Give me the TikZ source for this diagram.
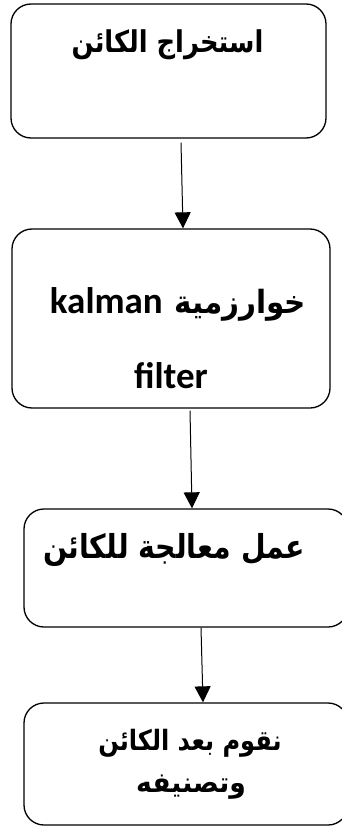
\documentclass[tikz,border=0pt]{standalone}
\usepackage{fontspec}
\setmainfont{Carlito}
\newfontfamily\arA[Script=Arabic,FakeStretch=0.86]{DejaVu Sans}
\newfontfamily\arB[Script=Arabic,FakeStretch=0.92]{DejaVu Sans}
\newfontfamily\arC[Script=Arabic,FakeStretch=0.95]{DejaVu Sans}
\newfontfamily\latinfont{Carlito}
\TeXXeTstate=1
\usetikzlibrary{arrows.meta,calc}
\begin{document}
\begin{tikzpicture}[x=1pt,y=-1pt,
  box/.style={draw,line width=1.3pt,rounded corners=20pt,inner sep=0pt},
  conn/.style={line width=1pt,-{Triangle[width=16pt,length=16pt]}},
  txt/.style={inner sep=0pt,anchor=base}]
\useasboundingbox (0,0) rectangle (342,829);
\node[box,minimum width=315pt,minimum height=134pt] (b1) at (168.5,71) {};
\node[box,minimum width=318pt,minimum height=179pt] (b2) at (171,318.5) {};
\node[box,minimum width=324pt,minimum height=118pt] (b3) at (186,568) {};
\node[box,minimum width=324pt,minimum height=122pt] (b4) at (186,764) {};
\node[txt,font=\arA\bfseries\fontsize{30}{34}\selectfont] (t1) at (167.5,53) {\beginR استخراج الكائن\endR};
\node[txt,anchor=base west,font=\arB\bfseries\fontsize{32}{36}\selectfont] (t2a) at (174,313) {\beginR خوارزمية\endR};
\node[txt,anchor=base east,font=\latinfont\bfseries\fontsize{37}{40}\selectfont] (t2k) at (163,313) {kalman};
\node[txt,font=\latinfont\bfseries\fontsize{37}{40}\selectfont] (t2b) at (171,388) {filter};
\node[txt,font=\arA\bfseries\fontsize{33}{36}\selectfont] (t3) at (174,558) {\beginR عمل معالجة للكائن\endR};
\node[txt,font=\arA\bfseries\fontsize{28}{32}\selectfont] (t4a) at (190,750) {\beginR نقوم بعد الكائن\endR};
\node[txt,font=\arC\bfseries\fontsize{28}{32}\selectfont] (t4b) at (191,792) {\beginR وتصنيفه\endR};
\draw[conn] ($(b1.south)+(12.5,4)$) -- ($(b2.north)+(12,0)$);
\draw[conn] ($(b2.south)+(19,2)$) -- ($(b3.north)+(6,0)$);
\draw[conn] ($(b3.south)+(15,0)$) -- ($(b4.north)+(17,0)$);
\end{tikzpicture}
\end{document}
